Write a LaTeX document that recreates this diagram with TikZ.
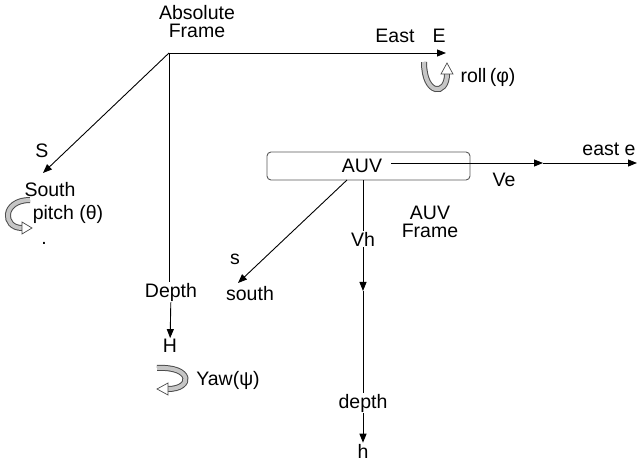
\documentclass[tikz,border=0pt]{standalone}
\usepackage{fontspec}
\setmainfont{Liberation Sans}
\usetikzlibrary{arrows.meta,positioning}

\begin{document}
\begin{tikzpicture}[x=1pt, y=-1pt, >={Triangle[length=9pt,width=7pt]},
  lbl/.style={font=\fontsize{19.5}{18}\selectfont, inner sep=1pt, align=center},
  axis/.style={line width=0.9pt},
  turn/.style={line width=6pt, draw=gray!60!black},
  turnin/.style={line width=4pt, draw=gray!45},
  tip/.style={draw=gray!60!black, fill=white, line width=0.7pt}]
  \useasboundingbox (0,0) rectangle (638,462);
  % absolute frame
  \coordinate (O) at (169,53);
  \coordinate (E) at (446,53);
  \coordinate (Stip) at (43,173);
  \node[lbl] (abs) at (197,22) {Absolute\\Frame};
  \node[lbl] (east) at (395,36) {East};
  \node[lbl] (Elbl) at (439,36) {E};
  \node[lbl] (roll) at (488,77) {roll\,(φ)};
  \node[lbl] (S) at (42,151) {S};
  \node[lbl] (south) at (50,190) {South};
  \node[lbl] (pitch) at (68,214) {pitch (θ)};
  \node[lbl] (dot) at (44,243) {.};
  \node[lbl] (depthA) at (171,292) {Depth};
  \node[lbl] (H) at (170,346) {H};
  \node[lbl] (yaw) at (228,380) {Yaw(ψ)};
  \draw[axis,->] (O) -- (E);
  \draw[axis,->] (O) -- (Stip);
  \draw[axis] (O) -- (O |- depthA.north);
  \draw[axis,->] (depthA) -- (H);
  % rotation marks
  \draw[turn] (424,62) .. controls (424,96) and (447,96) .. (447,74);
  \draw[turnin] (424,62) .. controls (424,96) and (447,96) .. (447,74);
  \draw[tip] (441,74) -- (453,74) -- (447,63) -- cycle;
  \draw[turn] (30,200) .. controls (2,200) and (2,228) .. (22,228);
  \draw[turnin] (30,200) .. controls (2,200) and (2,228) .. (22,228);
  \draw[tip] (22,222) -- (22,234) -- (32,228) -- cycle;
  \draw[turn] (157,368) .. controls (193,366) and (193,389) .. (168,389);
  \draw[turnin] (157,368) .. controls (193,366) and (193,389) .. (168,389);
  \draw[tip] (168,383) -- (168,395) -- (157,389) -- cycle;
  % auv frame
  \node[draw, rounded corners=4pt, minimum width=203pt, minimum height=28pt,
    line width=0.9pt, gray!70!black] (box) at (368.5,166) {};
  \node[lbl] (auv) at (362,166) {AUV};
  \node[lbl] (auvf) at (430,222) {AUV\\Frame};
  \node[lbl] (Ve) at (504,180) {Ve};
  \node[lbl] (eastb) at (609,149) {east e};
  \node[lbl] (Vh) at (363,239) {Vh};
  \node[lbl] (s) at (235,259) {s};
  \node[lbl] (southb) at (250,294) {south};
  \node[lbl] (depthb) at (363,403) {depth};
  \node[lbl] (h) at (363,451) {h};
  \coordinate (sb) at (347,180);
  \coordinate (stip) at (238,283);
  \coordinate (ve) at (543,163);
  \coordinate (eend) at (637,163);
  \coordinate (vmid) at (363,291);
  \draw[axis,->] ([xshift=8pt]auv.east |- ve) -- (ve);
  \draw[axis,->] (ve) -- (eend);
  \draw[axis,->] (sb) -- (stip);
  \draw[axis] (box.south -| Vh) -- (Vh);
  \draw[axis,->] (Vh) -- (vmid);
  \draw[axis] (vmid) -- (depthb);
  \draw[axis,->] (depthb) -- (h);
\end{tikzpicture}
\end{document}
